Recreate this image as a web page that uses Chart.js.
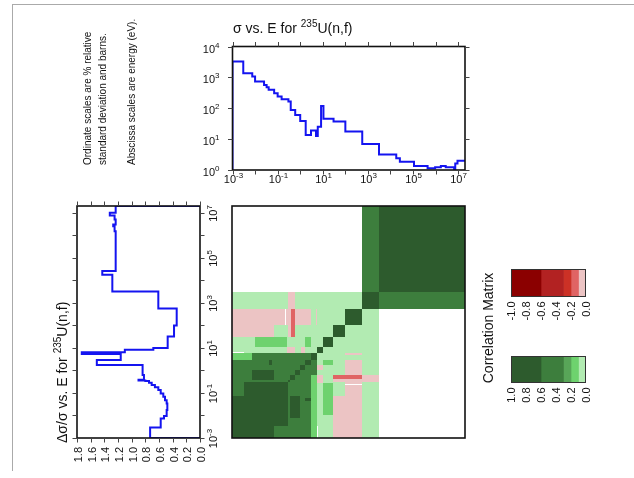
<!DOCTYPE html>
<html>
<head>
<meta charset="utf-8">
<script src="https://cdn.jsdelivr.net/npm/chart.js@4.4.1/dist/chart.umd.min.js"></script>
<style>
  html, body { margin: 0; padding: 0; background: #fff; }
  #wrap { position: relative; width: 634px; height: 478px; overflow: hidden; }
  #wrap canvas { position: absolute; left: 0; top: 0; }
  #page { position: absolute; left: 12px; top: 4px; width: 640px; height: 466px;
          border-top: 1px solid #aaa; border-left: 1px solid #aaa; }
</style>
</head>
<body>
<div id="wrap">
  <div id="page"></div>
  <canvas id="cvSigma" width="634" height="478"></canvas>
  <canvas id="cvErr" width="634" height="478"></canvas>
  <canvas id="cvCorr" width="634" height="478"></canvas>
  <canvas id="cvNeg" width="634" height="478"></canvas>
  <canvas id="cvPos" width="634" height="478"></canvas>
</div>
<script>
// --- 235U(n,f) covariance plot ---

// cross section (barns), group edges in eV
const sigEdges = [1e-3, 3e-3, 7.5e-3, 0.01, 0.025, 0.0325, 0.04, 0.07, 0.1, 0.15, 0.3, 0.38, 0.6, 1.0,
  1.75, 3.0, 5.0, 6.0, 8.4, 10.7, 30, 100, 560, 3100, 1.8e4, 2.6e4, 1.1e5, 4.4e5, 9.5e5, 1.7e6,
  2.8e6, 6.6e6, 7.4e6, 9.3e6, 2e7];
const sigValues = [3270, 1365, 1064, 733, 571, 480, 394, 306, 239, 196, 164, 88, 61, 39, 13.6, 18.9,
  12.7, 25.4, 119, 46, 37, 17.5, 7.0, 3.2, 2.4, 1.86, 1.35, 1.14, 1.23, 1.35, 1.23, 1.07, 1.62, 2.0];

// relative standard deviation, group edges in eV
const errEdges = [1e-3, 2.9e-3, 7.3e-3, 9.6e-3, 0.0173, 0.034, 0.048, 0.068, 0.095, 0.135, 0.178,
  0.225, 0.285, 0.34, 0.36, 0.39, 0.63, 1.76, 2.94, 5.3, 6.5, 8.2, 9.8, 32, 98, 556, 3160, 17600,
  26300, 1.5e6, 2.5e6, 3e6, 5e6, 7.6e6, 1e7, 2e7];
const errValues = [0.73, 0.575, 0.527, 0.488, 0.478, 0.488, 0.512, 0.537, 0.575, 0.61, 0.66, 0.707,
  0.746, 0.80, 0.90, 0.82, 0.84, 1.51, 1.16, 1.73, 1.10, 0.683, 0.473, 0.38, 0.341, 0.61, 1.283,
  1.43, 1.234, 1.25, 1.27, 1.234, 1.25, 1.32, 1.234];

// correlation blocks: [Ex lo, Ex hi, Ey lo, Ey hi, corr, mirrored?]
const corrCells = [
  [1e-3, 3100, 1e-3, 3100, 0.05],
  [3100, 2e7, 3100, 2e7, 0.8],
  [560, 3100, 3100, 2e7, 0.45],
  [560, 3100, 560, 3100, 0.8],
  [100, 560, 100, 560, 0.8],
  [30, 100, 30, 100, 0.8],
  [10.7, 30, 10.7, 30, 0.8],
  [1e-3, 3.0, 100, 560, -0.05],
  [0.226, 0.245, 100, 560, 0],
  [5.0, 6.0, 100, 560, -0.05],
  [1e-3, 0.07, 30, 100, -0.05],
  [0.3, 0.63, 30, 3100, -0.05],
  [0.4, 0.63, 30, 560, -0.15],
  [0.0107, 0.27, 10.7, 30, 0.15],
  [1.75, 3.0, 10.7, 30, 0.15],
  [0.27, 0.63, 6.0, 10.7, -0.05],
  [1.1, 1.75, 6.0, 10.7, -0.05],
  [1e-3, 6.0, 1e-3, 6.0, 0.45],
  [1e-3, 0.3, 1e-3, 0.3, 0.8],
  [1e-3, 3.3e-3, 0.07, 0.3, 0.45],
  [7.5e-3, 0.07, 0.38, 1.05, 0.8],
  [1.75, 3.0, 0.045, 0.06, 0.8],
  [3.0, 6.0, 7.5e-3, 0.63, 0.15, false],
  [3.0, 6.0, 1e-3, 7.5e-3, 0.15],
  [6.0, 6.6, 1e-3, 3.3e-3, 0],
  [0.3, 0.38, 0.3, 0.38, 0.8],
  [0.38, 0.6, 0.38, 0.6, 0.8],
  [0.6, 1.05, 0.6, 1.05, 0.8],
  [1.05, 1.75, 1.05, 1.75, 0.8],
  [1.75, 3.0, 1.75, 3.0, 0.8],
  [3.0, 6.0, 3.0, 6.0, 0.8],
  [6.0, 10.7, 6.0, 10.7, 0.8]
];

// colour scale
const posBins = [1.0, 0.6, 0.3, 0.2, 0.1, 0.0];
const posColors = ['#2d5b2d', '#3d7e3d', '#58a558', '#6ed26e', '#b2ebb2'];
const negBins = [-1.0, -0.6, -0.3, -0.2, -0.1, 0.0];
const negColors = ['#8b0000', '#b22222', '#cc3126', '#e06464', '#ecc4c4'];
const posTicks = [1.0, 0.8, 0.6, 0.4, 0.2, 0.0];
const negTicks = [-1.0, -0.8, -0.6, -0.4, -0.2, 0.0];
const decadesE = [-3, -2, -1, 0, 1, 2, 3, 4, 5, 6, 7];
const decadesSig = [0, 1, 2, 3, 4];
const errTicks = [0, 0.2, 0.4, 0.6, 0.8, 1.0, 1.2, 1.4, 1.6, 1.8];

const FONT = '"Liberation Sans", Arial, Helvetica, sans-serif';
const BLUE = '#1414f0';
const INK = '#111';

Chart.defaults.font.family = FONT;
Chart.defaults.animation = false;
Chart.defaults.events = [];
Chart.defaults.plugins.legend.display = false;
Chart.defaults.plugins.tooltip.enabled = false;

function corrColor(v) {
  if (v === 0) return '#ffffff';
  if (v > 0) {
    for (let i = 0; i < posColors.length; i++) if (v >= posBins[i + 1]) return posColors[i];
    return posColors[posColors.length - 1];
  }
  for (let i = 0; i < negColors.length; i++) if (v <= negBins[i + 1]) return negColors[i];
  return negColors[negColors.length - 1];
}

// '10' with a raised exponent, anchored at (x, y) baseline
function drawPow(ctx, x, y, exp, align) {
  ctx.font = '11px ' + FONT;
  const w1 = ctx.measureText('10').width;
  ctx.font = '8px ' + FONT;
  const w2 = ctx.measureText(String(exp)).width;
  const w = w1 + w2;
  const x0 = align === 'right' ? x - w : (align === 'center' ? x - w / 2 : x);
  ctx.textAlign = 'left';
  ctx.textBaseline = 'alphabetic';
  ctx.font = '11px ' + FONT;
  ctx.fillText('10', x0, y);
  ctx.font = '8px ' + FONT;
  ctx.fillText(String(exp), x0 + w1, y - 5);
}

// text pieces [text, size, rise]
function drawRich(ctx, x, y, parts) {
  ctx.textAlign = 'left';
  ctx.textBaseline = 'alphabetic';
  let cx = x;
  parts.forEach(([t, size, rise]) => {
    ctx.font = size + 'px ' + FONT;
    ctx.fillText(t, cx, y - rise);
    cx += ctx.measureText(t).width;
  });
}

function rotated(ctx, x, y, fn) {
  ctx.save();
  ctx.translate(x, y);
  ctx.rotate(-Math.PI / 2);
  fn();
  ctx.restore();
}

function tick(ctx, x0, y0, x1, y1) {
  ctx.beginPath();
  ctx.moveTo(x0, y0);
  ctx.lineTo(x1, y1);
  ctx.stroke();
}

function box(ctx, a) {
  ctx.strokeStyle = INK;
  ctx.lineWidth = 1.6;
  ctx.strokeRect(a.left, a.top, a.right - a.left, a.bottom - a.top);
}

function stepAlongX(edges, vals, floor) {
  const pts = [{ x: edges[0], y: floor }];
  vals.forEach((v, i) => {
    pts.push({ x: edges[i], y: v });
    pts.push({ x: edges[i + 1], y: v });
  });
  return pts;
}

function stepAlongY(edges, vals) {
  const pts = [{ x: 0, y: edges[0] }];
  vals.forEach((v, i) => {
    pts.push({ x: v, y: edges[i] });
    pts.push({ x: v, y: edges[i + 1] });
  });
  pts.push({ x: 0, y: edges[edges.length - 1] });
  return pts;
}

// --- top panel: sigma vs E ---
new Chart(document.getElementById('cvSigma'), {
  type: 'line',
  data: {
    datasets: [{
      data: stepAlongX(sigEdges, sigValues, 1),
      borderColor: BLUE, borderWidth: 2, pointRadius: 0, tension: 0, fill: false
    }]
  },
  options: {
    responsive: false,
    layout: { padding: { left: 232.5, top: 46.5, right: 169, bottom: 308 } },
    scales: {
      x: { type: 'logarithmic', min: 1e-3, max: 2e7, display: false },
      y: { type: 'logarithmic', min: 1, max: 1e4, display: false }
    }
  },
  plugins: [{
    id: 'sigmaFrame',
    afterDraw(chart) {
      const { ctx, chartArea: a } = chart;
      const xs = chart.scales.x, ys = chart.scales.y;
      ctx.save();
      box(ctx, a);
      ctx.strokeStyle = '#444';
      ctx.lineWidth = 1;
      ctx.fillStyle = INK;
      decadesE.forEach(d => {
        const px = Math.round(xs.getPixelForValue(Math.pow(10, d))) + 0.5;
        tick(ctx, px, a.top, px, a.top - 4.5);
        tick(ctx, px, a.bottom, px, a.bottom + 4.5);
        if (d % 2 !== 0) drawPow(ctx, px, a.bottom + 12.5, d, 'center');
      });
      decadesSig.forEach(d => {
        const py = Math.round(ys.getPixelForValue(Math.pow(10, d))) + 0.5;
        tick(ctx, a.left, py, a.left - 4.5, py);
        tick(ctx, a.right, py, a.right + 4.5, py);
        drawPow(ctx, a.left - 13, py + 5.5, d, 'right');
      });
      drawRich(ctx, 233, 33, [['σ vs. E for ', 14, 0], ['235', 10, 6], ['U(n,f)', 14, 0]]);
      ctx.restore();
    }
  }]
});

// --- left panel: relative uncertainty vs E (rotated) ---
new Chart(document.getElementById('cvErr'), {
  type: 'line',
  data: {
    datasets: [{
      data: stepAlongY(errEdges, errValues),
      borderColor: BLUE, borderWidth: 2, pointRadius: 0, tension: 0, fill: false
    }]
  },
  options: {
    responsive: false,
    layout: { padding: { left: 77, top: 206, right: 434, bottom: 40 } },
    scales: {
      x: { type: 'linear', min: 0, max: 1.8, reverse: true, display: false },
      y: { type: 'logarithmic', min: 1e-3, max: 2e7, display: false }
    }
  },
  plugins: [{
    id: 'errFrame',
    afterDraw(chart) {
      const { ctx, chartArea: a } = chart;
      const xs = chart.scales.x, ys = chart.scales.y;
      ctx.save();
      box(ctx, a);
      ctx.strokeStyle = '#444';
      ctx.lineWidth = 1;
      ctx.fillStyle = INK;
      errTicks.forEach(v => {
        const px = Math.round(xs.getPixelForValue(v)) + 0.5;
        tick(ctx, px, a.top, px, a.top - 4.5);
        tick(ctx, px, a.bottom, px, a.bottom + 4.5);
        rotated(ctx, px + 4, a.bottom + 9, () => {
          ctx.font = '11px ' + FONT;
          ctx.textAlign = 'right';
          ctx.textBaseline = 'alphabetic';
          ctx.fillText(v.toFixed(1), 0, 0);
        });
      });
      decadesE.forEach(d => {
        const py = Math.round(ys.getPixelForValue(Math.pow(10, d))) + 0.5;
        tick(ctx, a.left, py, a.left - 4.5, py);
        tick(ctx, a.right, py, a.right + 4.5, py);
        if (d % 2 !== 0) rotated(ctx, a.right + 16.5, py, () => drawPow(ctx, 0, 0, d, 'center'));
      });
      rotated(ctx, 67, 443, () =>
        drawRich(ctx, 0, 0, [['Δσ/σ vs. E for ', 14, 0], ['235', 10, 6], ['U(n,f)', 14, 0]]));
      // notes
      const notes = [['Ordinate scales are % relative', 90.5], ['standard deviation and barns.', 105.5],
        ['Abscissa scales are energy (eV).', 134.5]];
      notes.forEach(([t, x]) => rotated(ctx, x, 165, () => drawRich(ctx, 0, 0, [[t, 10, 0]])));
      ctx.restore();
    }
  }]
});

// --- correlation matrix ---
new Chart(document.getElementById('cvCorr'), {
  type: 'scatter',
  data: { datasets: [{ data: [], pointRadius: 0 }] },
  options: {
    responsive: false,
    layout: { padding: { left: 232, top: 206, right: 169, bottom: 40 } },
    scales: {
      x: { type: 'logarithmic', min: 1e-3, max: 2e7, display: false },
      y: { type: 'logarithmic', min: 1e-3, max: 2e7, display: false }
    }
  },
  plugins: [{
    id: 'corrCells',
    beforeDatasetsDraw(chart) {
      const { ctx, chartArea: a } = chart;
      const xs = chart.scales.x, ys = chart.scales.y;
      const cell = (x0, x1, y0, y1, v) => {
        const l = Math.round(xs.getPixelForValue(x0)), r = Math.round(xs.getPixelForValue(x1));
        const b = Math.round(ys.getPixelForValue(y0)), t = Math.round(ys.getPixelForValue(y1));
        ctx.fillStyle = corrColor(v);
        ctx.fillRect(l, t, r - l, b - t);
      };
      ctx.save();
      ctx.beginPath();
      ctx.rect(a.left, a.top, a.right - a.left, a.bottom - a.top);
      ctx.clip();
      corrCells.forEach(([x0, x1, y0, y1, v, mirror]) => {
        cell(x0, x1, y0, y1, v);
        if (mirror !== false) cell(y0, y1, x0, x1, v);
      });
      ctx.restore();
    },
    afterDraw(chart) {
      chart.ctx.save();
      box(chart.ctx, chart.chartArea);
      chart.ctx.restore();
    }
  }]
});

// --- colour bars ---
function colorBar(id, bins, colors, ticks, pad, reverse, extra) {
  new Chart(document.getElementById(id), {
    type: 'bar',
    data: {
      labels: [''],
      datasets: colors.map((c, i) => ({
        data: [[bins[i], bins[i + 1]]], backgroundColor: c, borderWidth: 0,
        grouped: false, barPercentage: 1, categoryPercentage: 1
      }))
    },
    options: {
      indexAxis: 'y',
      responsive: false,
      layout: { padding: pad },
      scales: {
        x: { type: 'linear', min: Math.min(...bins), max: Math.max(...bins), reverse, display: false },
        y: { display: false }
      }
    },
    plugins: [{
      id: id + 'Frame',
      afterDraw(chart) {
        const { ctx, chartArea: a } = chart;
        const xs = chart.scales.x;
        ctx.save();
        ctx.strokeStyle = '#333';
        ctx.lineWidth = 1;
        ctx.strokeRect(a.left + 0.5, a.top + 0.5, a.right - a.left - 1, a.bottom - a.top - 1);
        ctx.fillStyle = INK;
        ticks.forEach(v => {
          const px = xs.getPixelForValue(v);
          rotated(ctx, px + 4, a.bottom + 4.5, () => {
            ctx.font = '11px ' + FONT;
            ctx.textAlign = 'right';
            ctx.textBaseline = 'alphabetic';
            ctx.fillText(v.toFixed(1), 0, 0);
          });
        });
        if (extra) extra(ctx);
        ctx.restore();
      }
    }]
  });
}

colorBar('cvNeg', negBins, negColors, negTicks, { left: 511, right: 48, top: 269, bottom: 181 }, false);
colorBar('cvPos', posBins, posColors, posTicks, { left: 511, right: 48, top: 356, bottom: 95 }, true,
  ctx => rotated(ctx, 492.5, 328, () => {
    ctx.font = '14px ' + FONT;
    ctx.textAlign = 'center';
    ctx.textBaseline = 'alphabetic';
    ctx.fillText('Correlation Matrix', 0, 0);
  }));
</script>
</body>
</html>
